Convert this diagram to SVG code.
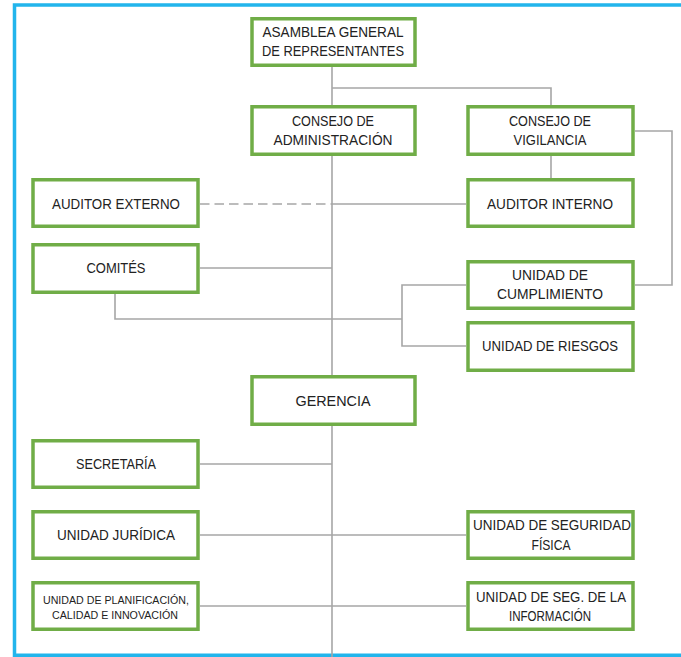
<svg xmlns="http://www.w3.org/2000/svg" width="681" height="657" viewBox="0 0 681 657">
<style>
.box{fill:#fff;stroke:#70AD47;stroke-width:3.5}
.t{font-family:"Liberation Sans",Arial,sans-serif;font-size:14.5px;fill:#222;text-anchor:middle;dominant-baseline:central}
.s{font-size:10px}
.c{fill:none;stroke:#A6A6A6;stroke-width:1.6}
.d{stroke-dasharray:9.5 5}
</style>
<rect x="0" y="0" width="681" height="657" fill="#fff"/>
<path d="M14.5 657 V5 H681" fill="none" stroke="#22B5EC" stroke-width="3.5"/>
<path d="M14.5 655.2 H681" fill="none" stroke="#22B5EC" stroke-width="3.5"/>
<g id="connectors">
<path class="c" d="M332 67 V657"/>
<path class="c" d="M332 88 H551 V105"/>
<path class="c" d="M551 156 V178"/>
<path class="c" d="M635 131 H672 V285 H635"/>
<path class="c d" d="M200 204 H332"/>
<path class="c" d="M332 204 H466"/>
<path class="c" d="M200 268 H332"/>
<path class="c" d="M115 294 V319 H402"/>
<path class="c" d="M466 285 H402 V346 H466"/>
<path class="c" d="M200 464 H332"/>
<path class="c" d="M200 535 H466"/>
<path class="c" d="M200 606 H466"/>
</g>
<g id="asamblea"><rect class="box" x="252" y="18.75" width="163" height="46.5"/>
<text class="t" x="333" y="32" textLength="141" lengthAdjust="spacingAndGlyphs">ASAMBLEA GENERAL</text>
<text class="t" x="333" y="51" textLength="142" lengthAdjust="spacingAndGlyphs">DE REPRESENTANTES</text></g>
<g id="consejo-admin"><rect class="box" x="252" y="106.75" width="163" height="47.5"/>
<text class="t" x="333" y="121" textLength="82" lengthAdjust="spacingAndGlyphs">CONSEJO DE</text>
<text class="t" x="333" y="140" textLength="119" lengthAdjust="spacingAndGlyphs">ADMINISTRACIÓN</text></g>
<g id="consejo-vig"><rect class="box" x="468" y="106.75" width="165" height="47.5"/>
<text class="t" x="550" y="121" textLength="82" lengthAdjust="spacingAndGlyphs">CONSEJO DE</text>
<text class="t" x="550" y="140" textLength="73" lengthAdjust="spacingAndGlyphs">VIGILANCIA</text></g>
<g id="auditor-ext"><rect class="box" x="33" y="179.75" width="165" height="46.5"/>
<text class="t" x="116" y="204" textLength="128" lengthAdjust="spacingAndGlyphs">AUDITOR EXTERNO</text></g>
<g id="auditor-int"><rect class="box" x="468" y="179.75" width="165" height="46.5"/>
<text class="t" x="550" y="204" textLength="126" lengthAdjust="spacingAndGlyphs">AUDITOR INTERNO</text></g>
<g id="comites"><rect class="box" x="33" y="244.75" width="165" height="47.5"/>
<text class="t" x="116" y="268" textLength="59" lengthAdjust="spacingAndGlyphs">COMITÉS</text></g>
<g id="cumplimiento"><rect class="box" x="468" y="261.75" width="165" height="46.5"/>
<text class="t" x="550" y="275" textLength="76" lengthAdjust="spacingAndGlyphs">UNIDAD DE</text>
<text class="t" x="550" y="294" textLength="106" lengthAdjust="spacingAndGlyphs">CUMPLIMIENTO</text></g>
<g id="riesgos"><rect class="box" x="468" y="322.75" width="165" height="47.5"/>
<text class="t" x="550" y="346" textLength="136" lengthAdjust="spacingAndGlyphs">UNIDAD DE RIESGOS</text></g>
<g id="gerencia"><rect class="box" x="252" y="376.75" width="163" height="47.5"/>
<text class="t" x="333" y="401" textLength="75" lengthAdjust="spacingAndGlyphs">GERENCIA</text></g>
<g id="secretaria"><rect class="box" x="33" y="440.75" width="165" height="46.5"/>
<text class="t" x="116" y="464" textLength="80" lengthAdjust="spacingAndGlyphs">SECRETARÍA</text></g>
<g id="juridica"><rect class="box" x="33" y="511.75" width="165" height="46.5"/>
<text class="t" x="116" y="535" textLength="118" lengthAdjust="spacingAndGlyphs">UNIDAD JURÍDICA</text></g>
<g id="seg-fisica"><rect class="box" x="468" y="511.75" width="165" height="46.5"/>
<text class="t" x="552" y="525" textLength="158" lengthAdjust="spacingAndGlyphs">UNIDAD DE SEGURIDAD</text>
<text class="t" x="551" y="545" textLength="39" lengthAdjust="spacingAndGlyphs">FÍSICA</text></g>
<g id="planificacion"><rect class="box" x="33" y="582.75" width="165" height="46.5"/>
<text class="t s" x="116" y="600" textLength="146" lengthAdjust="spacingAndGlyphs">UNIDAD DE PLANIFICACIÓN,</text>
<text class="t s" x="115" y="615" textLength="126" lengthAdjust="spacingAndGlyphs">CALIDAD E INNOVACIÓN</text></g>
<g id="seg-info"><rect class="box" x="468" y="582.75" width="165" height="46.5"/>
<text class="t" x="551" y="597" textLength="150" lengthAdjust="spacingAndGlyphs">UNIDAD DE SEG. DE LA</text>
<text class="t" x="550" y="616" textLength="82" lengthAdjust="spacingAndGlyphs">INFORMACIÓN</text></g>
</svg>
